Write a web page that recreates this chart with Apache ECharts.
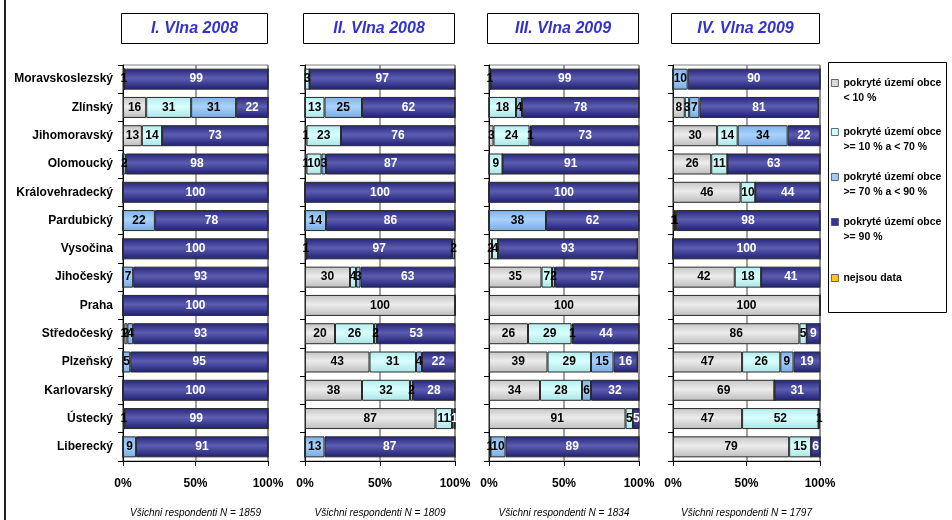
<!DOCTYPE html>
<html>
<head>
<meta charset="utf-8">
<script src="https://cdn.jsdelivr.net/npm/echarts@6/dist/echarts.min.js"></script>
<style>
  html, body { margin: 0; padding: 0; background: #fff; }
  #chart { width: 952px; height: 520px; }
</style>
</head>
<body>
<div id="chart"></div>
<script>
// Kraje (řádky grafu, shora dolů)
const regions = ['Moravskoslezský', 'Zlínský', 'Jihomoravský', 'Olomoucký', 'Královehradecký',
  'Pardubický', 'Vysočina', 'Jihočeský', 'Praha', 'Středočeský', 'Plzeňský',
  'Karlovarský', 'Ústecký', 'Liberecký'];

// Kategorie pokrytí
const coverageNames = [
  'pokryté území obce\n< 10 %',
  'pokryté území obce\n>= 10 % a < 70 %',
  'pokryté území obce\n>= 70 % a < 90 %',
  'pokryté území obce\n>= 90 %',
  'nejsou data'
];

const waveTitles = ['I. Vlna 2008', 'II. Vlna 2008', 'III. Vlna 2009', 'IV. Vlna 2009'];
const waveFooters = ['Všichni respondenti N = 1859', 'Všichni respondenti N = 1809',
  'Všichni respondenti N = 1834', 'Všichni respondenti N = 1797'];

const xTicks = [0, 50, 100];

// I. vlna 2008 (%)
const w1_lt10   = [1, 16, 13, 0, 0, 0, 0, 0, 0, 1, 0, 0, 1, 0];
const w1_10to70 = [0, 31, 14, 0, 0, 0, 0, 0, 0, 2, 0, 0, 0, 0];
const w1_70to90 = [0, 31, 0, 2, 0, 22, 0, 7, 0, 4, 5, 0, 0, 9];
const w1_ge90   = [99, 22, 73, 98, 100, 78, 100, 93, 100, 93, 95, 100, 99, 91];
const w1_nodata = [0, 0, 0, 0, 0, 0, 0, 0, 0, 0, 0, 0, 0, 0];

// II. vlna 2008 (%)
const w2_lt10   = [0, 0, 1, 1, 0, 0, 1, 30, 100, 20, 43, 38, 87, 0];
const w2_10to70 = [3, 13, 23, 10, 0, 0, 0, 4, 0, 26, 31, 32, 11, 0];
const w2_70to90 = [0, 25, 0, 3, 0, 14, 0, 3, 0, 2, 4, 2, 1, 13];
const w2_ge90   = [97, 62, 76, 87, 100, 86, 97, 63, 0, 53, 22, 28, 1, 87];
const w2_nodata = [0, 0, 0, 0, 0, 0, 2, 0, 0, 0, 0, 0, 0, 0];

// III. vlna 2009 (%)
const w3_lt10   = [1, 0, 3, 0, 0, 0, 2, 35, 100, 26, 39, 34, 91, 1];
const w3_10to70 = [0, 18, 24, 9, 0, 0, 4, 7, 0, 29, 29, 28, 5, 0];
const w3_70to90 = [0, 4, 1, 0, 0, 38, 0, 2, 0, 1, 15, 6, 0, 10];
const w3_ge90   = [99, 78, 73, 91, 100, 62, 93, 57, 0, 44, 16, 32, 5, 89];
const w3_nodata = [0, 0, 0, 0, 0, 0, 0, 0, 0, 0, 0, 0, 0, 0];

// IV. vlna 2009 (%)
const w4_lt10   = [0, 8, 30, 26, 46, 1, 0, 42, 100, 86, 47, 69, 47, 79];
const w4_10to70 = [0, 3, 14, 11, 10, 0, 0, 18, 0, 5, 26, 0, 52, 15];
const w4_70to90 = [10, 7, 34, 0, 0, 1, 0, 0, 0, 0, 9, 0, 0, 0];
const w4_ge90   = [90, 81, 22, 63, 44, 98, 100, 41, 0, 9, 19, 31, 0, 6];
const w4_nodata = [0, 0, 0, 0, 0, 0, 0, 0, 0, 0, 0, 0, 1, 0];

const waves = [
  [w1_lt10, w1_10to70, w1_70to90, w1_ge90, w1_nodata],
  [w2_lt10, w2_10to70, w2_70to90, w2_ge90, w2_nodata],
  [w3_lt10, w3_10to70, w3_70to90, w3_ge90, w3_nodata],
  [w4_lt10, w4_10to70, w4_70to90, w4_ge90, w4_nodata]
];

const FONT = '"Liberation Sans", Arial, sans-serif';

// plot area of each panel
const panels = [
  { left: 123, width: 145 },
  { left: 305, width: 150 },
  { left: 489, width: 150 },
  { left: 673, width: 147 }
];
const plotTop = 65, plotHeight = 396;

// shaded fills: darker edges, lighter centre band
function shade(edge, mid, edge2) {
  return new echarts.graphic.LinearGradient(0, 0, 0, 1, [
    { offset: 0, color: edge },
    { offset: 0.45, color: mid },
    { offset: 1, color: edge2 }
  ]);
}
const fills = [
  shade('#c4c4c4', '#ececec', '#bdbdbd'),
  shade('#b4ecec', '#d8ffff', '#ace4e4'),
  shade('#7eb2e8', '#a8d2fc', '#78aae0'),
  shade('#25257c', '#5c5cb0', '#1f1f72'),
  shade('#b08400', '#f0c000', '#a87c00')
];
const flatColors = ['#d9d9d9', '#ccffff', '#99ccff', '#333399', '#ffcc00'];
const labelColors = ['#000', '#000', '#000', '#fff', '#000'];

const grid = panels.map(p => ({
  left: p.left, width: p.width, top: plotTop, height: plotHeight,
  show: true, borderColor: '#808080', borderWidth: 1, backgroundColor: 'transparent'
}));

const xAxis = panels.map((p, i) => ({
  type: 'value', gridIndex: i, min: xTicks[0], max: xTicks[xTicks.length - 1], interval: 50,
  axisLine: { show: true, lineStyle: { color: '#000', width: 1 } },
  axisTick: { show: true, length: 5, lineStyle: { color: '#000' } },
  splitLine: { show: true, lineStyle: { color: '#808080', width: 1.5 } },
  axisLabel: { formatter: '{value}%', fontFamily: FONT, fontWeight: 'bold', fontSize: 12, color: '#000', margin: 17 }
}));

const yAxis = panels.map((p, i) => ({
  type: 'category', gridIndex: i, data: regions, inverse: true,
  axisLine: { show: true, lineStyle: { color: '#000', width: 1 } },
  axisTick: { show: true, length: 5, lineStyle: { color: '#000' } },
  axisLabel: { show: i === 0, fontFamily: FONT, fontWeight: 'bold', fontSize: 12, color: '#000', margin: 10 }
}));

const series = [];
waves.forEach((wave, wi) => {
  wave.forEach((values, si) => {
    series.push({
      name: coverageNames[si],
      type: 'bar',
      stack: 'wave' + wi,
      xAxisIndex: wi, yAxisIndex: wi,
      barWidth: 21,
      data: values,
      itemStyle: { color: fills[si], borderColor: '#2a2a2a', borderWidth: 1 },
      label: {
        show: true, position: 'inside',
        formatter: p => (p.value > 0 ? String(p.value) : ''),
        fontFamily: FONT, fontWeight: 'bold', fontSize: 12, color: labelColors[si]
      },
      emphasis: { disabled: true }
    });
  });
});

// legend: one block per category; two-line items use a tall icon box whose
// visible square sits at the top, next to the first text line
const legendFirstLine = [83, 132, 177, 222, 278];
const tallIcon = 'path://M0,0L7,0L7,7L0,7Z M0,22';
const legend = coverageNames.map((name, i) => {
  const twoLines = name.indexOf('\n') >= 0;
  return {
    left: 831,
    top: legendFirstLine[i] - 7.5,
    padding: 0,
    orient: 'vertical', selectedMode: false,
    itemWidth: 7, itemHeight: twoLines ? 22 : 7, itemGap: 0,
    data: [{
      name: name,
      icon: twoLines ? tallIcon : 'rect',
      itemStyle: { color: flatColors[i], borderColor: '#444', borderWidth: 0.8 },
      textStyle: {
        fontFamily: FONT, fontWeight: 'bold', fontSize: 10.5, color: '#000', lineHeight: 15
      }
    }]
  };
});

const graphic = [
  // outer frame line on the left
  { type: 'rect', shape: { x: 4, y: 0, width: 2, height: 520 }, style: { fill: '#222' }, silent: true },
  // legend frame
  { type: 'rect', shape: { x: 828.5, y: 62.5, width: 118, height: 250 }, style: { fill: 'none', stroke: '#000', lineWidth: 1 }, silent: true }
];
panels.forEach((p, i) => {
  graphic.push({
    type: 'rect', shape: { x: p.left - 1.5, y: 13.5, width: p.width + 1, height: 30 },
    style: { fill: '#fff', stroke: '#000', lineWidth: 1 }, silent: true
  });
  graphic.push({
    type: 'text', x: p.left - 1 + p.width / 2, y: 28.5,
    style: { text: waveTitles[i], fill: '#3333cc', font: 'italic bold 16px ' + FONT, align: 'center', verticalAlign: 'middle' },
    silent: true
  });
  graphic.push({
    type: 'text', x: p.left + p.width / 2, y: 513,
    style: { text: waveFooters[i], fill: '#000', font: 'italic 10px ' + FONT, align: 'center', verticalAlign: 'middle' },
    silent: true
  });
});

const chart = echarts.init(document.getElementById('chart'), null, { renderer: 'canvas' });
chart.setOption({
  backgroundColor: '#fff',
  animation: false,
  grid, xAxis, yAxis, series, legend, graphic
});
</script>
</body>
</html>
